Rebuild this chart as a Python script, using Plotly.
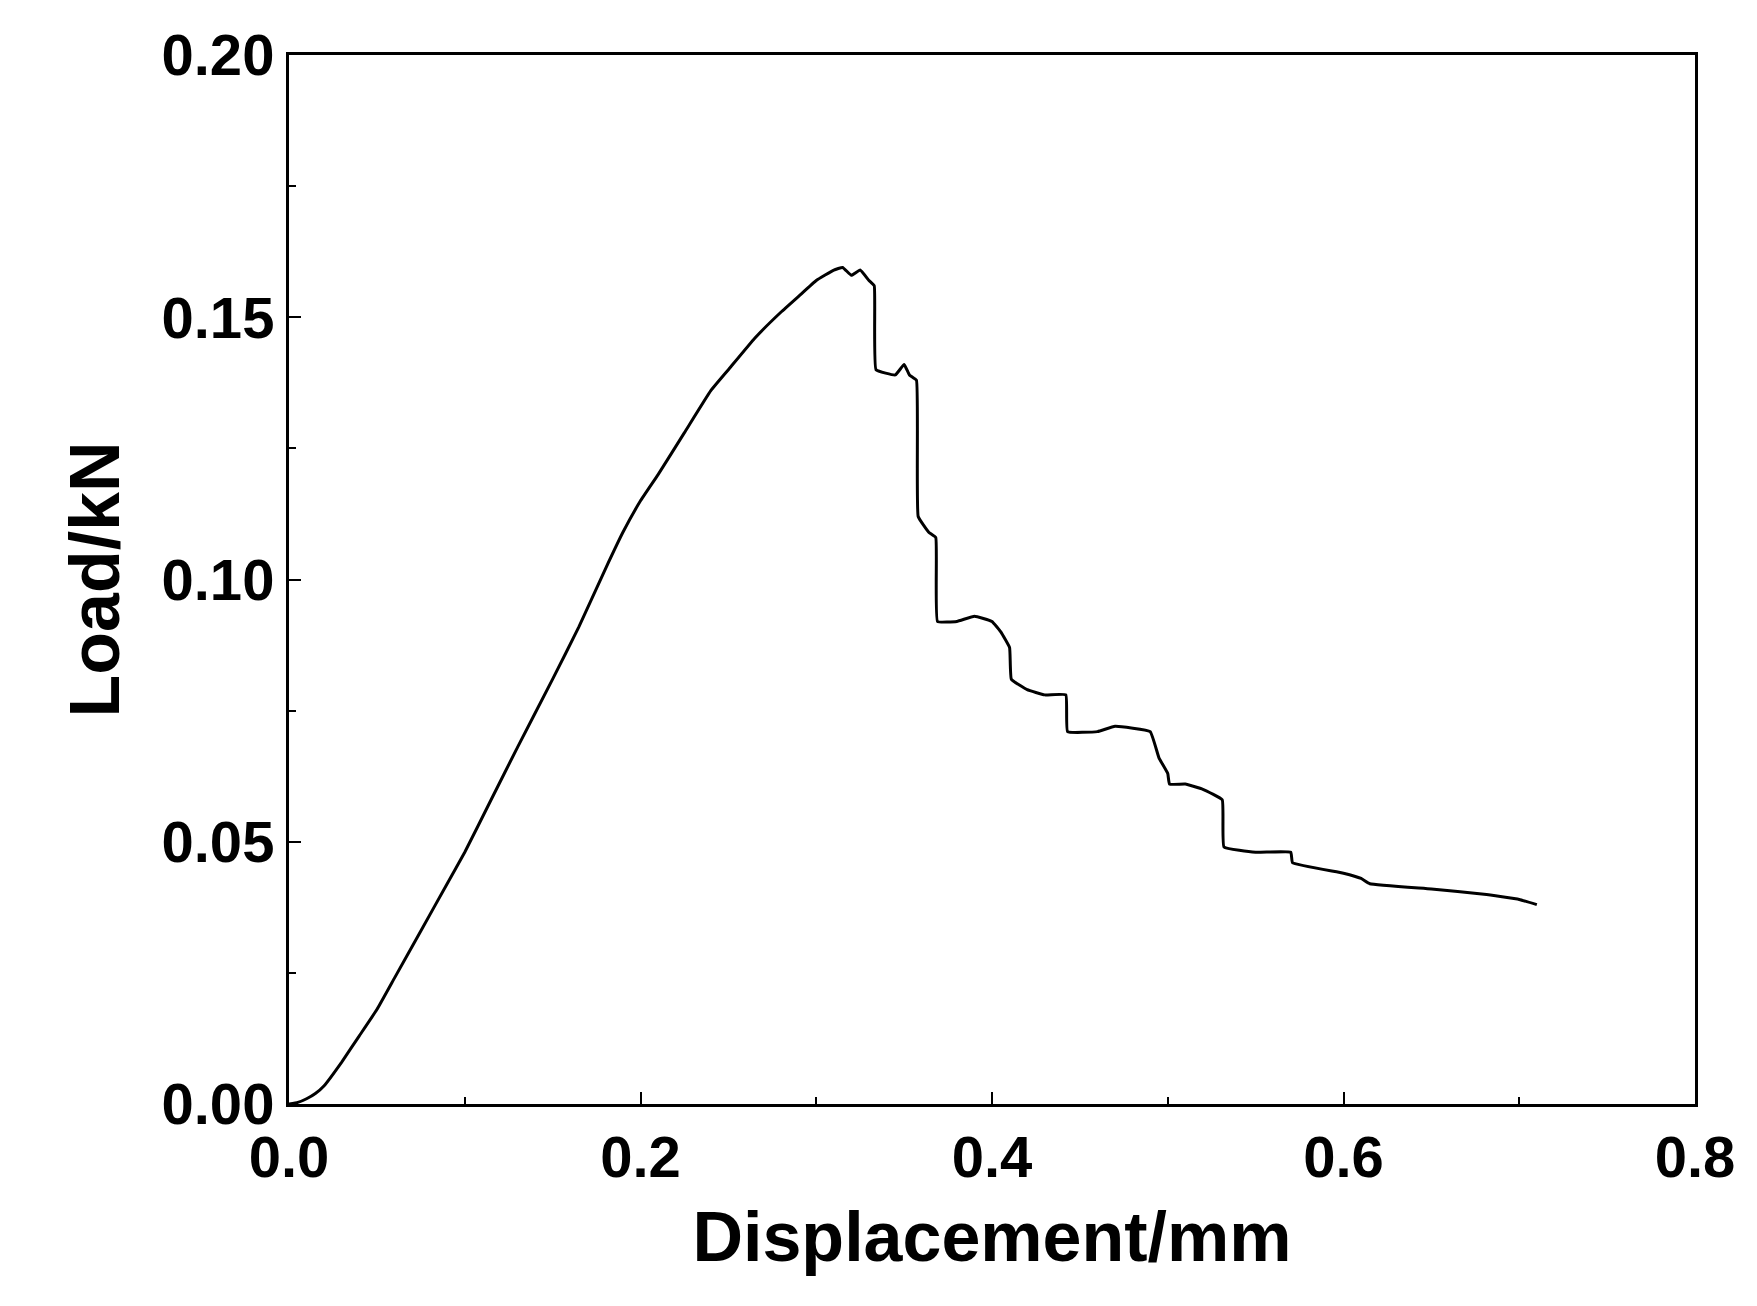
import plotly.graph_objects as go

disp = [0, 0.005, 0.01, 0.015, 0.02, 0.03, 0.04, 0.05, 0.06, 0.075, 0.09, 0.1, 0.115, 0.13, 0.15, 0.165, 0.18, 0.19, 0.2, 0.21,
        0.225, 0.24, 0.25, 0.265, 0.28, 0.29, 0.3, 0.31, 0.315, 0.32, 0.325, 0.33, 0.333,
        0.334, 0.345, 0.35, 0.353, 0.357, 0.358, 0.364, 0.368, 0.369, 0.38, 0.39, 0.4, 0.405, 0.41, 0.411, 0.42,
        0.43, 0.442, 0.443, 0.46, 0.47, 0.49, 0.495, 0.5, 0.501, 0.51, 0.52, 0.531, 0.532, 0.55, 0.57, 0.571,
        0.6, 0.61, 0.615, 0.65, 0.68, 0.7, 0.71]
load = [0, 0.0003, 0.001, 0.002, 0.0035, 0.008, 0.013, 0.018, 0.024, 0.033, 0.042, 0.048, 0.058, 0.068, 0.081, 0.091, 0.102, 0.109, 0.115, 0.12,
        0.128, 0.136, 0.14, 0.146, 0.151, 0.154, 0.157, 0.159, 0.1595, 0.158, 0.159, 0.157, 0.156,
        0.14, 0.139, 0.141, 0.139, 0.138, 0.112, 0.109, 0.108, 0.092, 0.092, 0.093, 0.092, 0.09, 0.087, 0.081, 0.079,
        0.078, 0.078, 0.071, 0.071, 0.072, 0.071, 0.066, 0.063, 0.061, 0.061, 0.060, 0.058, 0.049, 0.048, 0.048, 0.046,
        0.044, 0.043, 0.042, 0.041, 0.040, 0.039, 0.038]

fig = go.Figure(go.Scatter(x=disp, y=load, mode="lines", line=dict(color="black", width=3, shape="spline", smoothing=0.3)))
tf = dict(family="Liberation Sans", size=58, color="black", weight="bold")
titlef = dict(family="Liberation Sans", size=70, color="black", weight="bold")
axis = dict(showline=True, linecolor="black", linewidth=3, mirror=True, showgrid=False, zeroline=False,
            ticks="inside", ticklen=12, tickwidth=2, tickcolor="black", tickfont=tf)
fig.update_xaxes(range=[0, 0.8], dtick=0.2, tickformat=".1f",
                 minor=dict(dtick=0.1, ticks="inside", ticklen=7, tickwidth=2, tickcolor="black"),
                 title=dict(text="Displacement/mm", font=titlef, standoff=25), **axis)
fig.update_yaxes(range=[0, 0.2], dtick=0.05, tickformat=".2f",
                 minor=dict(dtick=0.025, ticks="inside", ticklen=7, tickwidth=2, tickcolor="black"),
                 title=dict(text="Load/kN", font=titlef, standoff=20), **axis)
fig.update_layout(width=1757, height=1306, plot_bgcolor="white", paper_bgcolor="white", showlegend=False,
                  margin=dict(l=281, r=70, t=47, b=210))
fig.write_html("out.html")
